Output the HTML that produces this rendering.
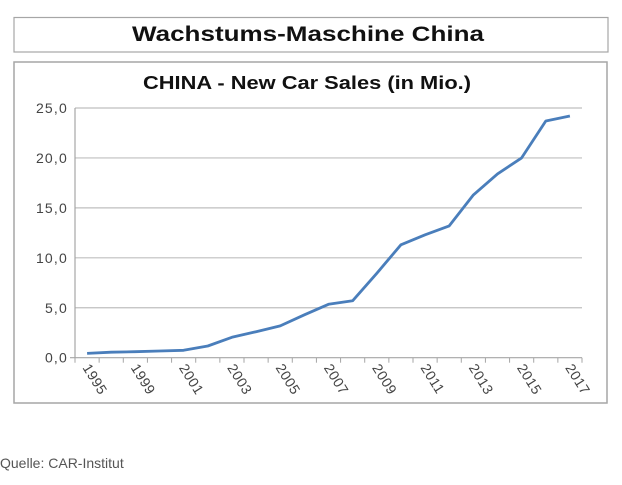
<!DOCTYPE html>
<html><head><meta charset="utf-8"><style>
body{margin:0;background:#fff;width:622px;height:480px;overflow:hidden;font-family:"Liberation Sans",sans-serif}
</style></head><body>
<svg width="622" height="480" viewBox="0 0 622 480">
<rect x="14" y="17.5" width="594" height="34.5" fill="#fff" stroke="#a6a6a6" stroke-width="1.2"/>
<text x="132" y="41" textLength="352" lengthAdjust="spacingAndGlyphs" font-size="21" font-weight="bold" fill="#111">Wachstums-Maschine China</text>
<rect x="14" y="62" width="593" height="341" fill="#fff" stroke="#a6a6a6" stroke-width="1.5"/>
<text x="143" y="89" textLength="328" lengthAdjust="spacingAndGlyphs" font-size="18" font-weight="bold" fill="#111">CHINA - New Car Sales (in Mio.)</text>
<g id="grid"></g><g id="axes"></g><g id="series"></g>
<text x="0" y="468" font-size="14" fill="#555">Quelle: CAR-Institut</text>
</svg>
<script>
const categories=["1995","1997","1999","2000","2001","2002","2003","2004","2005","2006","2007","2008","2009","2010","2011","2012","2013","2014","2015","2016","2017"];
const sales=[0.43,0.55,0.6,0.67,0.74,1.17,2.04,2.6,3.18,4.3,5.35,5.7,8.45,11.3,12.3,13.2,16.3,18.4,20.0,23.7,24.2];
const yTicks=[0,5,10,15,20,25];
const yTickLabels=["0,0","5,0","10,0","15,0","20,0","25,0"];
const NS="http://www.w3.org/2000/svg";
const X0=75,X1=582,Y0=357.7,Y1=108,YMAX=25;
const band=(X1-X0)/categories.length;
const x=i=>X0+band*(i+0.5);
const y=v=>Y0-(v/YMAX)*(Y0-Y1);
function mk(t,a,p){const e=document.createElementNS(NS,t);for(const k in a)e.setAttribute(k,a[k]);p.appendChild(e);return e;}
const grid=document.getElementById('grid'),axes=document.getElementById('axes'),series=document.getElementById('series');
yTicks.forEach((v,i)=>{
 if(v>0){const g=mk('line',{x1:X0,x2:X1,y1:y(v),y2:y(v),stroke:'#bfbfbf','stroke-width':1.2},grid);
 
 }
 const t=mk('text',{x:68,y:y(v)+5,'text-anchor':'end','font-size':14,'letter-spacing':1.2,fill:'#444'},axes);
 t.textContent=yTickLabels[i];
 
 
});
const ax=mk('line',{x1:X0,x2:X0,y1:Y1,y2:Y0,stroke:'#a6a6a6','stroke-width':1.2},axes);


const xa=mk('line',{x1:X0-5,x2:X1,y1:Y0,y2:Y0,stroke:'#a6a6a6','stroke-width':1.2},axes);


for(let i=0;i<=categories.length;i++){
 const tk=mk('line',{x1:X0+band*i,x2:X0+band*i,y1:Y0,y2:Y0+5,stroke:'#a6a6a6','stroke-width':1},axes);
 
 
}
categories.forEach((c,i)=>{
 if(i%2)return;
 const cx=x(i)-5,cy=Y0+10;
 const t=mk('text',{x:cx,y:cy,'font-size':14,'letter-spacing':0.5,fill:'#444',transform:`rotate(58 ${cx} ${cy})`},axes);
 t.textContent=c;
 
 
});
const pts=sales.map((v,i)=>x(i).toFixed(1)+','+y(v).toFixed(1)).join(' ');
const pl=mk('polyline',{points:pts,fill:'none',stroke:'#4a7ebb','stroke-width':2.8,'stroke-linejoin':'round'},series);


</script>
</body></html>
